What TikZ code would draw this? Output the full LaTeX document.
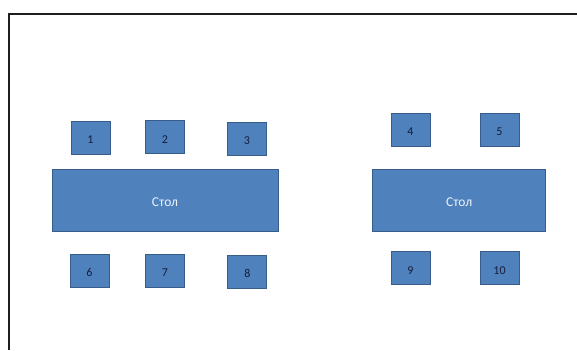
\documentclass[tikz,border=0pt]{standalone}
\usepackage{fontspec}
\setmainfont{Carlito}

\begin{document}
\begin{tikzpicture}[
    x=1pt, y=-1pt,
    % Define Office-like colors locally
    boxFill/.style={fill={rgb,255:red,79;green,129;blue,189}},
    boxLine/.style={draw={rgb,255:red,56;green,93;blue,138}, line width=0.9pt},
    tablebox/.style={boxFill, boxLine, minimum width=226pt, minimum height=62pt,
        text={rgb,255:red,236;green,241;blue,248}, font=\fontsize{13.5}{14}\selectfont,
        text height=13pt, text depth=0pt},
    chairbox/.style={boxFill, boxLine, minimum width=39pt, minimum height=33pt,
        text={rgb,255:red,22;green,28;blue,60}, font=\fontsize{12}{13}\selectfont,
        text height=12pt, text depth=0pt, inner sep=1pt},
    frameline/.style={draw={rgb,255:red,30;green,30;blue,30}, line width=2pt}
]

    \useasboundingbox (0,0) rectangle (577,350);

    % --- FRAME (cut at right and bottom) ---
    \draw[frameline] (8.5,350) -- (8.5,14.5) -- (577,14.5);

    % --- LEFT TABLE ---
    \node[tablebox] (tableL) at (165,200) {Стол};

    \node[chairbox] (c1) at (90.5,137.7) {1};
    \node[chairbox] (c2) at (165,137.4) {2};
    \node[chairbox] (c3) at (246.8,138.5) {3};

    \node[chairbox] (c6) at (89.5,270.8) {6};
    \node[chairbox] (c7) at (165,270.8) {7};
    \node[chairbox] (c8) at (247.3,271.8) {8};

    % --- RIGHT TABLE ---
    \node[tablebox, minimum width=173pt] (tableR) at (459.2,200) {Стол};

    \node[chairbox] (c4) at (410.5,129.7) {4};
    \node[chairbox] (c5) at (499.5,129.7) {5};

    \node[chairbox] (c9) at (410.5,268.3) {9};
    \node[chairbox] (c10) at (499.5,268.3) {10};

\end{tikzpicture}
\end{document}
